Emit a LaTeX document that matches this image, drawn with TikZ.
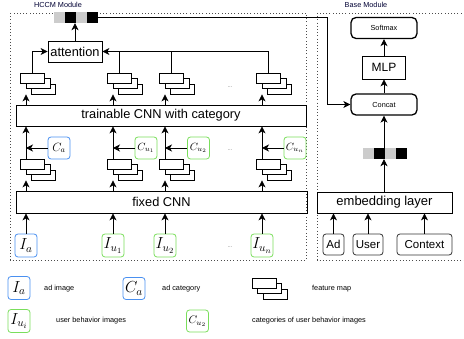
\RequirePackage{fix-cm}
\documentclass[tikz,border=0pt]{standalone}
\usepackage{amsmath}
\usepackage{fontspec}
\setmainfont{Liberation Sans}
\usepackage{xcolor}
\usepackage{tikz}
\usetikzlibrary{arrows.meta,positioning}
\tikzset{>={Stealth[length=7pt,width=7pt,inset=2pt]}}

\definecolor{adblue}{RGB}{74,144,240}
\definecolor{ugreen}{RGB}{122,222,92}
\definecolor{lgray}{RGB}{204,204,204}

% stack of three feature maps, front one named #1
\newcommand{\fmap}[3]{%
  \node[fmrect] (#1b) at (#2+11,#3+11) {};
  \node[fmrect] (#1m) at (#2+5.5,#3+5.5) {};
  \node[fmrect] (#1) at (#2,#3) {};
}

\begin{document}
\begin{tikzpicture}[x=1pt,y=-1pt,
                    every node/.style={inner sep=0pt},
                    module/.style={draw=black!70, line width=0.8pt, dash pattern=on 0.8pt off 2.4pt},
                    layer/.style={draw, line width=0.8pt, minimum height=21pt, font=\fontsize{12.8}{15}\selectfont},
                    fmrect/.style={draw, fill=white, line width=0.8pt, minimum width=24pt, minimum height=10pt},
                    img/.style={draw, rounded corners=3pt, line width=0.8pt, minimum width=22pt, minimum height=23pt, font=\fontsize{16}{18}\selectfont},
                    cat/.style={draw, rounded corners=3pt, line width=0.8pt, minimum size=22pt, font=\fontsize{10.5}{12}\selectfont},
                    feat/.style={draw=black!80, rounded corners=3pt, line width=0.8pt, minimum height=21pt, font=\fontsize{11.5}{13}\selectfont},
                    headbox/.style={draw, rounded corners=5pt, line width=1.3pt, minimum width=66pt, minimum height=21pt, font=\fontsize{7.3}{9}\selectfont},
                    cell/.style={minimum width=11pt, minimum height=11pt},
                    small/.style={font=\fontsize{7.3}{9}\selectfont},
                    ellip/.style={font=\fontsize{6}{7}\selectfont, text=gray},
                    arr/.style={->, line width=0.8pt},
                   ]

\useasboundingbox (0,0) rectangle (464,339);

% modules
\draw[module] (10,13) rectangle (306,260);
\draw[module] (317,13) rectangle (475,260);
\node[small, text=black!80!blue] (hccm) at (58,4.5) {HCCM Module};
\node[small, text=black!80!blue] (base) at (366,4.5) {Base Module};

% HCCM module
\node[layer, minimum width=54pt] (att) at (75,51.5) {attention};
\node[layer, minimum width=290pt] (tcnn) at (161,115.5) {trainable CNN with category};
\node[layer, minimum width=291pt, minimum height=22pt] (fcnn) at (161.5,202) {fixed CNN};

\node[cell, fill=lgray] (hv1) at (59.5,17.5) {};
\node[cell, fill=black] (hv2) at (70.5,17.5) {};
\node[cell, fill=lgray] (hv3) at (81.5,17.5) {};
\node[cell, fill=black] (hv4) at (92.5,17.5) {};

\node[img, draw=adblue] (ia) at (26,245.5) {$I_a$};
\node[img, draw=ugreen] (iu1) at (113,245.5) {$I_{u_1}$};
\node[img, draw=ugreen] (iu2) at (165,245.5) {$I_{u_2}$};
\node[img, draw=ugreen] (iun) at (262,245.5) {$I_{u_n}$};

\node[cat, draw=adblue, font=\fontsize{12}{14}\selectfont] (ca) at (59,148) {$C_a$};
\node[cat, draw=ugreen] (cu1) at (146,148) {$C_{u_1}$};
\node[cat, draw=ugreen] (cu2) at (198.5,148) {$C_{u_2}$};
\node[cat, draw=ugreen] (cun) at (295,148) {$C_{u_n}$};

\fmap{fla}{32.5}{164}
\fmap{flu1}{119.5}{164}
\fmap{flu2}{171.5}{164}
\fmap{flun}{268.5}{164}
\fmap{fua}{32.5}{78}
\fmap{fuu1}{119.5}{78}
\fmap{fuu2}{171.5}{78}
\fmap{fuun}{268.5}{78}

\node[ellip] (dot1) at (230,87) {...};
\node[ellip] (dot2) at (230,150) {...};
\node[ellip] (dot3) at (230,247) {...};

\draw[arr] (ia) -- (ia |- fcnn.south);
\draw[arr] (iu1) -- (iu1 |- fcnn.south);
\draw[arr] (iu2) -- (iu2 |- fcnn.south);
\draw[arr] (iun) -- (iun |- fcnn.south);

\draw[arr] (fcnn.north -| ia) -- (flab.south -| ia);
\draw[arr] (fcnn.north -| iu1) -- (flu1b.south -| iu1);
\draw[arr] (fcnn.north -| iu2) -- (flu2b.south -| iu2);
\draw[arr] (fcnn.north -| iun) -- (flunb.south -| iun);

\draw[arr] (fla.north -| ia) -- (tcnn.south -| ia);
\draw[arr] (flu1.north -| iu1) -- (tcnn.south -| iu1);
\draw[arr] (flu2.north -| iu2) -- (tcnn.south -| iu2);
\draw[arr] (flun.north -| iun) -- (tcnn.south -| iun);

\draw[arr] (ca) -- (ca -| ia);
\draw[arr] (cu1) -- (cu1 -| iu1);
\draw[arr] (cu2) -- (cu2 -| iu2);
\draw[arr] (cun) -- (cun -| iun);

\draw[arr] (tcnn.north -| ia) -- (fuab.south -| ia);
\draw[arr] (tcnn.north -| iu1) -- (fuu1b.south -| iu1);
\draw[arr] (tcnn.north -| iu2) -- (fuu2b.south -| iu2);
\draw[arr] (tcnn.north -| iun) -- (fuunb.south -| iun);

\draw[arr] (fua.north) |- (att.west);
\draw[arr] (fuun.north) |- (att.east);
\draw[line width=0.8pt] (fuu1.north) -- (fuu1.north |- att.east);
\draw[line width=0.8pt] (fuu2.north) -- (fuu2.north |- att.east);
\draw[arr] (att) -- (att |- hv2.south);

% Base module
\node[headbox] (soft) at (384,28) {Softmax};
\node[layer, minimum width=43pt, minimum height=23pt, font=\fontsize{12}{14}\selectfont] (mlp) at (384,67.5) {MLP};
\node[headbox] (concat) at (384,104.5) {Concat};

\node[cell, fill=lgray] (bv1) at (368.5,153.5) {};
\node[cell, fill=black] (bv2) at (379.5,153.5) {};
\node[cell, fill=lgray] (bv3) at (390.5,153.5) {};
\node[cell, fill=black] (bv4) at (401.5,153.5) {};

\node[layer, minimum width=135pt, font=\fontsize{13}{15}\selectfont] (emb) at (384.5,202.5) {embedding layer};
\node[feat, minimum width=21pt] (ad) at (333.5,244.5) {Ad};
\node[feat, minimum width=30pt] (user) at (368,244.5) {User};
\node[feat, minimum width=55pt] (ctx) at (424.5,244.5) {Context};

\draw[arr] (ad) -- (ad |- emb.south);
\draw[arr] (user) -- (user |- emb.south);
\draw[arr] (ctx) -- (ctx |- emb.south);
\draw[arr] (emb.north -| concat) -- (bv2.south -| concat);
\draw[arr] (bv2.north -| concat) -- (concat.south);
\draw[arr] (concat) -- (mlp);
\draw[arr] (mlp) -- (soft);

\coordinate (bend) at (327,17.5);
\draw[arr] (hv4.east) -- (bend) |- (concat.west);

% legend
\node[img, draw=adblue] (lia) at (19,288) {$I_a$};
\node[small, anchor=west] (ltia) at (44,289) {ad image};
\node[cat, draw=adblue, font=\fontsize{16}{18}\selectfont] (lca) at (134,288.5) {$C_a$};
\node[small, anchor=west] (ltca) at (162,289) {ad category};
\fmap{lfm}{264}{283}
\node[small, anchor=west] (ltfm) at (312,289) {feature map};
\node[img, draw=ugreen] (liu) at (19,321) {$I_{u_i}$};
\node[small, anchor=west] (ltiu) at (56,321) {user behavior images};
\node[cat, draw=ugreen, font=\fontsize{11}{13}\selectfont] (lcu) at (197.5,321) {$C_{u_2}$};
\node[small, anchor=west] (ltcu) at (252,321) {categories of user behavior images};

\end{tikzpicture}
\end{document}
